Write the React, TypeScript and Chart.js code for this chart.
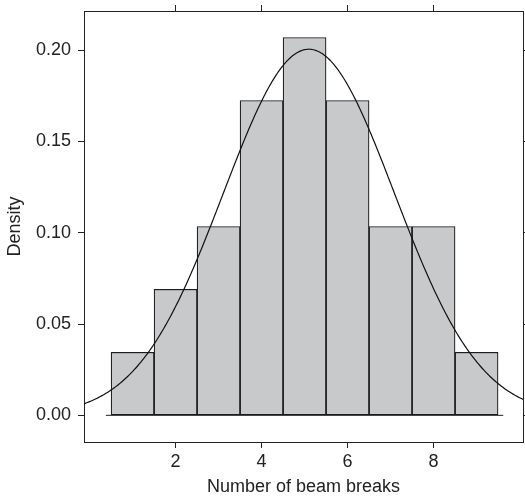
import React, { useEffect, useRef } from "react";
import { Chart, registerables } from "chart.js";

Chart.register(...registerables);

// Histogram bins (centres) and their densities
const BIN_CENTERS = [1, 2, 3, 4, 5, 6, 7, 8, 9];
const DENSITIES = [0.0345, 0.069, 0.1034, 0.1724, 0.2069, 0.1724, 0.1034, 0.1034, 0.0345];

// Fitted normal density overlay
const CURVE_MEAN = 5.1;
const CURVE_SD = 1.99;

// Axis ranges and ticks
const X_MIN = -0.13;
const X_MAX = 10.08;
const Y_MIN = -0.0146;
const Y_MAX = 0.2214;
const X_TICKS = [2, 4, 6, 8];
const Y_TICKS = [0, 0.05, 0.1, 0.15, 0.2];

// Baseline drawn under the bars
const BASELINE_X = [0.38, 9.62];

const X_TITLE = "Number of beam breaks";
const Y_TITLE = "Density";

const FONT_FAMILY = "'Liberation Sans', Arial, Helvetica, sans-serif";
const INK = "#222222";

function normalPdf(x: number, mu: number, sd: number): number {
  const z = (x - mu) / sd;
  return Math.exp(-0.5 * z * z) / (sd * Math.sqrt(2 * Math.PI));
}

export default function App() {
  const canvasRef = useRef<HTMLCanvasElement | null>(null);

  useEffect(() => {
    const canvas = canvasRef.current;
    if (!canvas) return;

    const curve: { x: number; y: number }[] = [];
    const steps = 400;
    for (let i = 0; i <= steps; i++) {
      const x = X_MIN + ((X_MAX - X_MIN) * i) / steps;
      curve.push({ x, y: normalPdf(x, CURVE_MEAN, CURVE_SD) });
    }

    const bars = BIN_CENTERS.map((x, i) => ({ x, y: DENSITIES[i] }));
    const baseline = BASELINE_X.map((x) => ({ x, y: 0 }));

    const fixTicks = (values: number[]) => (scale: any) => {
      scale.ticks = values.map((v) => ({ value: v }));
    };

    // Fixed axis band sizes so the plot box lands at a set place
    const fitH = (h: number) => (s: any) => {
      s.height = h;
      s.paddingLeft = 0;
      s.paddingRight = 0;
    };
    const fitW = (w: number) => (s: any) => {
      s.width = w;
      s.paddingTop = 0;
      s.paddingBottom = 0;
    };

    const tickGrid = {
      display: true,
      offset: false,
      drawOnChartArea: false,
      drawTicks: true,
      tickLength: 6,
      color: INK,
      lineWidth: 1,
    };
    const border = { display: true, color: INK, width: 1 };
    const labelFont = { family: FONT_FAMILY, size: 18 };
    const titleFont = { family: FONT_FAMILY, size: 18 };

    const chart = new Chart(canvas, {
      type: "bar",
      data: {
        datasets: [
          {
            type: "line",
            data: curve,
            borderColor: "#111111",
            borderWidth: 1.2,
            pointRadius: 0,
            tension: 0,
            fill: false,
            order: 0,
          } as any,
          {
            type: "line",
            data: baseline,
            borderColor: INK,
            borderWidth: 1,
            pointRadius: 0,
            fill: false,
            order: 1,
          } as any,
          {
            type: "bar",
            data: bars,
            backgroundColor: "#c8c9cb",
            borderColor: "#1c1c1c",
            borderWidth: 1.2,
            borderSkipped: false,
            barPercentage: 1,
            categoryPercentage: 1,
            order: 2,
          } as any,
        ],
      },
      options: {
        responsive: false,
        animation: false,
        devicePixelRatio: 1,
        layout: { padding: 0 },
        plugins: {
          legend: { display: false },
          tooltip: { enabled: false },
        },
        scales: {
          x: {
            type: "linear",
            position: "bottom",
            min: X_MIN,
            max: X_MAX,
            offset: false,
            afterBuildTicks: fixTicks(X_TICKS),
            afterFit: fitH(57),
            grid: tickGrid,
            border,
            ticks: {
              color: INK,
              font: labelFont,
              padding: 3,
              maxRotation: 0,
              callback: (v: any) => String(v),
            },
            title: {
              display: true,
              text: X_TITLE,
              color: INK,
              font: titleFont,
              padding: { top: 0, bottom: 1 },
            },
          },
          x2: {
            type: "linear",
            position: "top",
            min: X_MIN,
            max: X_MAX,
            offset: false,
            afterBuildTicks: fixTicks(X_TICKS),
            afterFit: fitH(11),
            grid: tickGrid,
            border,
            ticks: { display: false },
          },
          y: {
            type: "linear",
            position: "left",
            min: Y_MIN,
            max: Y_MAX,
            afterBuildTicks: fixTicks(Y_TICKS),
            afterFit: fitW(84),
            grid: tickGrid,
            border,
            ticks: {
              color: INK,
              font: labelFont,
              padding: 7,
              callback: (v: any) => Number(v).toFixed(2),
            },
            title: {
              display: true,
              text: Y_TITLE,
              color: INK,
              font: titleFont,
              padding: { top: 4, bottom: 0 },
            },
          },
          y2: {
            type: "linear",
            position: "right",
            min: Y_MIN,
            max: Y_MAX,
            afterBuildTicks: fixTicks(Y_TICKS),
            afterFit: fitW(2),
            grid: tickGrid,
            border,
            ticks: { display: false },
          },
        },
      } as any,
    });

    return () => {
      chart.destroy();
    };
  }, []);

  return (
    <div
      style={{
        position: "absolute",
        left: 0,
        top: 0,
        width: 525,
        height: 499,
        background: "#ffffff",
      }}
    >
      <canvas ref={canvasRef} width={525} height={499} style={{ width: 525, height: 499 }} />
    </div>
  );
}
